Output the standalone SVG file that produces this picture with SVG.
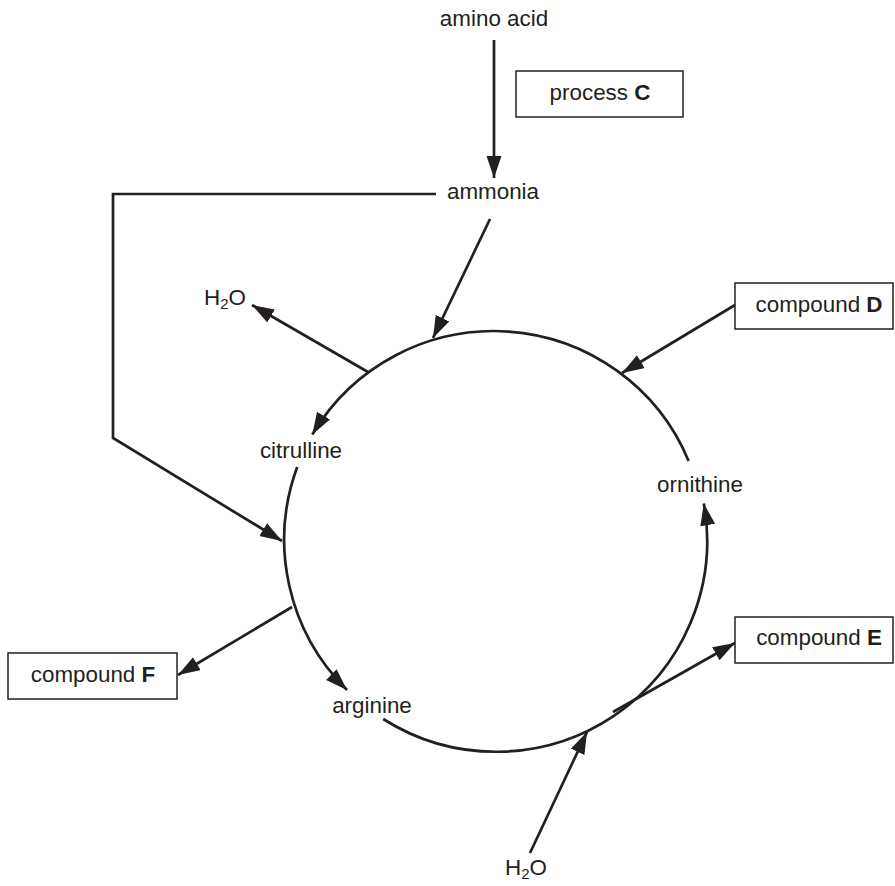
<svg xmlns="http://www.w3.org/2000/svg" width="895" height="886" viewBox="0 0 895 886">
<defs>
<style>
text{font-family:"Liberation Sans",Arial,sans-serif;font-size:22.4px;fill:#231f20}
.b{font-weight:bold}
.box{fill:#fff;stroke:#231f20;stroke-width:1.5}
.ln{fill:none;stroke:#231f20;stroke-width:2.7}
.arr{marker-end:url(#ah)}
</style>
<marker id="ah" markerUnits="userSpaceOnUse" markerWidth="26" markerHeight="18" refX="22" refY="7.5" orient="auto">
<path d="M0,0 L22,7.5 L0,15 Z" fill="#231f20"/>
</marker>
</defs>
<rect width="895" height="886" fill="#fff"/>
<g id="connectors">
<line class="ln arr" x1="494" y1="40" x2="494" y2="178"/>
<line class="ln arr" x1="490" y1="219" x2="433" y2="338"/>
<polyline class="ln arr" points="436,194 113,194 113,438 282,541"/>
<line class="ln arr" x1="368" y1="372" x2="252" y2="305"/>
<line class="ln arr" x1="735" y1="305" x2="622" y2="373"/>
<line class="ln arr" x1="292" y1="607" x2="178" y2="675"/>
<line class="ln arr" x1="613" y1="712" x2="735" y2="643"/>
<line class="ln arr" x1="530" y1="853" x2="587" y2="732"/>
<path class="ln arr" d="M688.6,460.9 A211,211 0 0 0 312.3,434.5"/>
<path class="ln arr" d="M297.2,467.0 A211,211 0 0 0 347.0,690.0"/>
<path class="ln arr" d="M383.2,719.0 A211,211 0 0 0 703.8,503.4"/>
</g>
<g id="amino-acid"><text x="494" y="26" text-anchor="middle">amino acid</text></g>
<g id="process-c"><rect class="box" x="516" y="71" width="167" height="46"/><text x="600" y="100" text-anchor="middle">process <tspan class="b">C</tspan></text></g>
<g id="ammonia"><text x="493" y="199" text-anchor="middle">ammonia</text></g>
<g id="h2o-top"><text x="204" y="305">H<tspan font-size="15" dy="4">2</tspan><tspan dy="-4">O</tspan></text></g>
<g id="compound-d"><rect class="box" x="735" y="283" width="158" height="46"/><text x="819" y="312" text-anchor="middle">compound <tspan class="b">D</tspan></text></g>
<g id="citrulline"><text x="301" y="458" text-anchor="middle">citrulline</text></g>
<g id="ornithine"><text x="700" y="492" text-anchor="middle">ornithine</text></g>
<g id="compound-e"><rect class="box" x="735" y="617" width="158" height="46"/><text x="819" y="645" text-anchor="middle">compound <tspan class="b">E</tspan></text></g>
<g id="compound-f"><rect class="box" x="8" y="653" width="169" height="46"/><text x="93" y="682" text-anchor="middle">compound <tspan class="b">F</tspan></text></g>
<g id="arginine"><text x="372" y="713" text-anchor="middle">arginine</text></g>
<g id="h2o-bottom"><text x="505" y="875">H<tspan font-size="15" dy="4">2</tspan><tspan dy="-4">O</tspan></text></g>
</svg>
